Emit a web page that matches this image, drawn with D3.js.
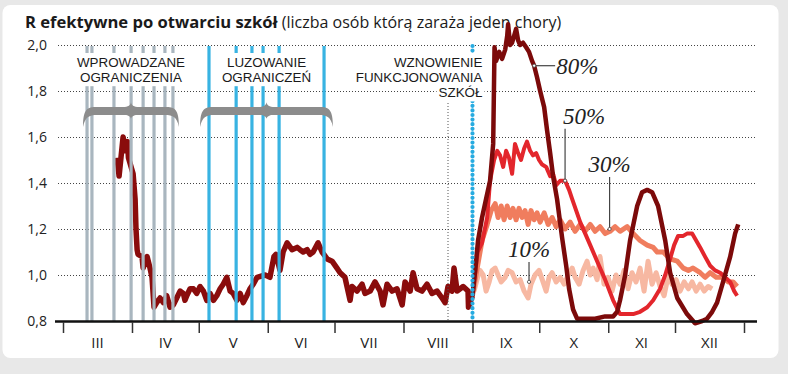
<!DOCTYPE html>
<html>
<head>
<meta charset="utf-8">
<script src="https://cdn.jsdelivr.net/npm/d3@7"></script>
<style>
  body { margin: 0; background: #e8e8e8; }
  svg { display: block; font-family: "Open Sans", sans-serif; }
</style>
</head>
<body>
<div id="chart"></div>
<script>
// days are counted from 1 March 2020
const monthLabels = ["III", "IV", "V", "VI", "VII", "VIII", "IX", "X", "XI", "XII"];
const yTicks = [0.8, 1.0, 1.2, 1.4, 1.6, 1.8, 2.0];

const restrictionDays = [10.8, 13, 22.9, 30.6, 36, 40.9, 45.8, 49.4];
const easingDays = [65.6, 77.8, 84.9, 89.9, 97.1, 117.3];
const schoolDay = 184;
const markerDay = 173;
const braceSpans = [[9, 52.1], [61.6, 121.3]];

const groupLabels = [
  {lines: ["WPROWADZANE", "OGRANICZENIA"], anchor: "middle"},
  {lines: ["LUZOWANIE", "OGRANICZEŃ"], anchor: "middle"},
  {lines: ["WZNOWIENIE", "FUNKCJONOWANIA", "SZKÓŁ"], anchor: "end"}
];

// observed R
const observed = [
  [24.3,1.51],[25.2,1.43],[27.0,1.60],[28.1,1.54],[29.0,1.58],[29.4,1.51],[31.5,1.44],[32.4,1.33],
  [32.8,1.20],[33.3,1.11],[33.7,1.09],[35.5,1.08],[36.0,1.03],[37.8,1.08],[39.1,1.03],[40.0,0.99],
  [40.9,0.86],[42.1,0.88],[43.6,0.90],[45.1,0.88],[46.6,0.91],[48.1,0.86],[49.6,0.87],[51.1,0.90],
  [52.6,0.93],[54.1,0.92],[54.8,0.89],[55.6,0.91],[57.1,0.94],[58.6,0.94],[60.1,0.92],[61.6,0.95],
  [63.1,0.93],[64.6,0.89],[66.1,0.92],[67.6,0.89],[69.1,0.91],[70.6,0.94],[72.0,0.96],[73.6,0.99],
  [75.1,0.93],[76.5,0.92],[78.1,0.89],[79.6,0.92],[81.0,0.88],[82.6,0.91],[84.0,0.94],[85.5,0.96],
  [87.2,0.99],[90.8,1.00],[93.0,0.99],[94.8,1.08],[95.7,1.09],[97.5,1.02],[98.9,1.10],[100.7,1.14],
  [102.9,1.11],[105.2,1.12],[106.5,1.11],[107.9,1.10],[109.7,1.11],[111.0,1.09],[112.4,1.10],[114.6,1.14],
  [116.4,1.10],[118.7,1.07],[120.9,1.06],[123.1,1.03],[124.5,1.01],[126.7,0.99],[129.0,0.89],[129.9,0.95],
  [132.1,0.93],[134.4,0.96],[135.7,0.92],[138.0,0.93],[140.2,0.97],[142.5,0.93],[143.8,0.87],[145.6,0.96],
  [147.9,0.93],[150.1,0.94],[152.4,0.87],[153.7,0.97],[156.0,0.93],[157.3,1.01],[159.1,0.94],[161.3,0.93],
  [163.6,0.96],[165.8,0.92],[168.1,0.93],[170.3,0.90],[171.7,0.88],[173.0,0.95],[174.8,0.93],[175.7,1.03],
  [177.1,0.93],[179.8,0.95],[182.0,0.93],[182.2,0.86],[184.0,0.91]
];

// scenarios after schools reopen
const scen80 = [
  [184,0.91],[185.2,1.02],[186.5,1.15],[188.3,1.25],[190.1,1.33],[191.9,1.41],[193.3,1.57],[193.9,1.99],
  [194.6,1.93],[196.0,1.97],[197.3,1.94],[198.7,1.98],[199.6,2.04],[200.0,2.09],[200.9,2.00],[201.8,2.01],
  [202.7,2.04],[203.6,2.07],[204.5,2.02],[205.4,2.00],[206.7,2.01],[208.1,1.99],[209.4,1.97],[210.8,1.93],
  [211.7,1.91],[213.0,1.86],[214.4,1.80],[216.2,1.73],[217.5,1.63],[218.9,1.53],[220.2,1.43],[222.0,1.33],
  [224.3,1.16],[226.1,1.04],[227.4,0.94],[229.2,0.85],[231.0,0.81],[234.6,0.81],[239.1,0.81],[243.6,0.82],
  [247.2,0.82],[249.0,0.84],[250.3,0.89],[252.6,1.00],[254.8,1.15],[258.0,1.30],[260.2,1.36],[262.5,1.37],
  [264.7,1.36],[267.4,1.30],[270.6,1.15],[272.8,1.01],[276.0,0.90],[280.4,0.83],[284.0,0.79],[287.2,0.80],
  [289.4,0.81],[291.7,0.84],[293.9,0.88],[296.6,0.97],[299.8,1.08],[302.0,1.18],[303.4,1.22]
];
const scen50 = [
  [184,0.91],[186.3,1.10],[188.3,1.14],[190.6,1.25],[191.9,1.41],[193.7,1.50],[195.1,1.54],[196.4,1.52],
  [197.8,1.47],[199.1,1.54],[200.4,1.51],[201.8,1.44],[203.1,1.57],[204.5,1.53],[205.8,1.50],[207.2,1.55],
  [208.5,1.58],[209.9,1.54],[211.2,1.52],[212.6,1.53],[213.9,1.50],[215.3,1.48],[217.1,1.47],[218.9,1.43],
  [220.2,1.44],[221.6,1.39],[223.4,1.41],[225.6,1.41],[227.4,1.37],[228.8,1.33],[232.4,1.23],[236.9,1.13],
  [240.0,1.06],[243.6,0.98],[247.2,0.89],[250.3,0.83],[253.5,0.83],[256.2,0.83],[259.3,0.84],[262.5,0.86],
  [265.2,0.89],[268.3,0.94],[270.6,1.00],[272.8,1.07],[274.6,1.13],[276.4,1.17],[278.7,1.17],[280.4,1.18],
  [282.7,1.18],[284.5,1.15],[286.3,1.12],[288.5,1.08],[290.8,1.04],[293.0,1.02],[295.3,1.01],[297.5,0.99],
  [299.8,0.97],[301.6,0.93],[302.9,0.91]
];
const scen30 = [
  [184,0.91],[186.3,1.04],[188.3,1.15],[190.6,1.22],[192.4,1.28],[194.2,1.31],[195.5,1.25],[196.9,1.30],
  [198.2,1.24],[199.6,1.30],[200.9,1.25],[202.2,1.29],[203.6,1.24],[204.9,1.29],[206.3,1.25],[207.6,1.28],
  [209.0,1.22],[210.3,1.28],[211.7,1.24],[213.0,1.27],[214.4,1.23],[216.2,1.27],[218.0,1.22],[219.8,1.25],
  [221.6,1.21],[223.4,1.24],[225.6,1.20],[227.9,1.23],[230.1,1.19],[232.4,1.22],[234.6,1.19],[236.9,1.22],
  [239.1,1.19],[241.3,1.21],[243.6,1.18],[245.8,1.19],[248.1,1.21],[250.3,1.19],[253.5,1.21],[256.2,1.18],
  [259.3,1.15],[262.5,1.13],[265.2,1.12],[267.0,1.10],[269.7,1.10],[272.8,1.07],[276.0,1.06],[278.7,1.03],
  [281.0,1.02],[283.1,1.03],[286.3,1.01],[288.5,0.99],[290.8,1.01],[293.5,0.99],[296.6,0.99],[298.9,0.97],
  [301.1,0.97],[302.9,0.95]
];
const scen10 = [
  [184.7,0.93],[186.3,0.99],[187.4,1.02],[188.8,1.00],[190.1,0.93],[191.5,0.97],[192.8,1.02],[194.2,1.03],
  [195.5,1.00],[196.9,0.97],[198.7,0.99],[200.0,1.02],[201.8,1.01],[203.6,0.97],[205.4,0.98],[207.2,0.93],
  [209.0,0.90],[210.3,0.96],[212.1,1.00],[213.9,1.02],[215.7,0.97],[217.1,0.93],[218.4,0.99],[219.8,1.01],
  [221.6,0.97],[223.4,0.99],[225.2,0.96],[227.0,1.00],[228.8,1.03],[230.1,0.99],[231.9,0.96],[233.7,1.02],
  [235.5,1.06],[236.9,1.00],[238.2,1.03],[240.0,0.98],[241.3,1.08],[243.1,0.96],[244.9,0.99],[246.7,0.93],
  [248.5,1.00],[250.3,0.96],[252.1,1.02],[253.9,0.94],[255.7,1.01],[257.5,0.97],[259.3,1.03],[261.1,0.93],
  [262.9,1.06],[264.7,0.96],[266.5,1.01],[268.3,0.95],[270.1,0.91],[272.0,1.00],[273.7,0.96],[275.5,0.98],
  [277.3,0.93],[279.1,0.97],[281.0,0.94],[282.7,0.97],[284.5,0.93],[286.3,0.96],[288.1,0.93],[289.9,0.95],
  [291.7,0.94]
];

const seriesList = [
  {name: "10%", data: scen10, color: "#f7b8a2", width: 5},
  {name: "30%", data: scen30, color: "#f07d5e", width: 5},
  {name: "50%", data: scen50, color: "#e3262c", width: 4},
  {name: "80%", data: scen80, color: "#7c0a0a", width: 4.5}
];

// label anchors on the curves [day, R]
const scenarioLabels = [
  {text: "80%", at: [211.7, 1.91], dir: "h"},
  {text: "50%", at: [225.6, 1.41], dir: "v", len: 52, anchor: "start"},
  {text: "30%", at: [245.6, 1.20], dir: "v", len: 52, anchor: "middle"},
  {text: "10%", at: [209.4, 0.97], dir: "v", len: 20, anchor: "middle"}
];

const W = 788, H = 374;
const svg = d3.select("#chart").append("svg").attr("width", W).attr("height", H);

const t0 = Date.UTC(2020, 2, 1);
const day = d => new Date(t0 + d * 864e5);

const x = d3.scaleUtc()
  .domain([new Date(t0), new Date(Date.UTC(2021, 0, 1))])
  .range([63, 744]);
const y = d3.scaleLinear().domain([0.8, 2.0]).range([321, 45]);

// card
svg.append("rect")
  .attr("x", 2.5).attr("y", 5).attr("width", 776).attr("height", 353)
  .attr("rx", 8).attr("fill", "#fff");

// grid + y labels
const fmt = v => d3.format(".1f")(v).replace(".", ",");
svg.append("g").selectAll("line")
  .data(yTicks.filter(v => v > 0.8))
  .join("line")
    .attr("x1", 58).attr("x2", 755)
    .attr("y1", d => y(d) + 0.5).attr("y2", d => y(d) + 0.5)
    .attr("stroke", "#444").attr("stroke-width", 1)
    .attr("stroke-dasharray", "1,2");

svg.append("g").selectAll("text")
  .data(yTicks)
  .join("text")
    .attr("x", 47).attr("y", d => y(d))
    .attr("dy", "0.36em")
    .attr("text-anchor", "end")
    .attr("font-size", 14).attr("fill", "#222")
    .text(fmt);

// title
const title = svg.append("text").attr("x", 25).attr("y", 28).attr("fill", "#1a1a1a");
title.append("tspan").attr("font-weight", 700).attr("font-size", 16.6)
  .text("R efektywne po otwarciu szkół");
title.append("tspan").attr("font-size", 16)
  .text(" (liczba osób którą zaraża jeden chory)");

// lines
const line = d3.line().x(d => x(day(d[0]))).y(d => y(d[1]));

svg.append("path").datum(observed)
  .attr("d", line).attr("fill", "none")
  .attr("stroke", "#8a0c0c").attr("stroke-width", 5.5)
  .attr("stroke-linejoin", "round");

svg.append("g").selectAll("path")
  .data(seriesList)
  .join("path")
    .attr("d", d => line(d.data))
    .attr("fill", "none")
    .attr("stroke", d => d.color)
    .attr("stroke-width", d => d.width)
    .attr("stroke-linejoin", "round");

// vertical event lines
const vTop = y(2.0) + 1, vBot = y(0.8);
svg.append("g").selectAll("line")
  .data(restrictionDays)
  .join("line")
    .attr("x1", d => x(day(d))).attr("x2", d => x(day(d)))
    .attr("y1", vTop).attr("y2", vBot)
    .attr("stroke", "#a9b6bf").attr("stroke-width", 3.2);

svg.append("g").selectAll("line")
  .data(easingDays)
  .join("line")
    .attr("x1", d => x(day(d))).attr("x2", d => x(day(d)))
    .attr("y1", vTop).attr("y2", vBot)
    .attr("stroke", "#38b3e2").attr("stroke-width", 3.2);

svg.append("line")
  .attr("x1", x(day(markerDay))).attr("x2", x(day(markerDay)))
  .attr("y1", y(1.8)).attr("y2", vBot)
  .attr("stroke", "#555").attr("stroke-width", 1)
  .attr("stroke-dasharray", "1,2");

svg.append("line")
  .attr("x1", x(day(schoolDay))).attr("x2", x(day(schoolDay)))
  .attr("y1", vTop).attr("y2", vBot)
  .attr("stroke", "#27abe0").attr("stroke-width", 4.2)
  .attr("stroke-linecap", "round")
  .attr("stroke-dasharray", "0,4.6");

// braces
function brace(x0, x1, t) {
  const m = (x0 + x1) / 2;
  return `M${x0},${t + 16}
    C${x0},${t - 2} ${x0 + 4},${t - 4} ${x0 + 14},${t - 4}
    L${m - 8},${t - 4} C${m - 3},${t - 4} ${m},${t - 6} ${m},${t - 9}
    C${m},${t - 6} ${m + 3},${t - 4} ${m + 8},${t - 4}
    L${x1 - 14},${t - 4} C${x1 - 4},${t - 4} ${x1},${t - 2} ${x1},${t + 16}
    C${x1 - 2},${t + 6} ${x1 - 6},${t + 4} ${x1 - 14},${t + 4}
    L${m + 6},${t + 4} C${m + 3},${t + 4} ${m},${t + 6} ${m},${t + 8}
    C${m},${t + 6} ${m - 3},${t + 4} ${m - 6},${t + 4}
    L${x0 + 14},${t + 4} C${x0 + 6},${t + 4} ${x0 + 2},${t + 6} ${x0},${t + 16}Z`;
}
svg.append("g").selectAll("path")
  .data(braceSpans)
  .join("path")
    .attr("d", d => brace(x(day(d[0])), x(day(d[1])), 111))
    .attr("fill", "#8c8c8c");

// group labels with white boxes (one text per group, one tspan per line)
const labelX = [
  (x(day(braceSpans[0][0])) + x(day(braceSpans[0][1]))) / 2,
  (x(day(braceSpans[1][0])) + x(day(braceSpans[1][1]))) / 2,
  x(day(schoolDay)) + 10
];
groupLabels.forEach((g, i) => {
  const gg = svg.append("g");
  const tx = gg.append("text")
    .attr("text-anchor", g.anchor)
    .attr("font-family", "'Liberation Sans', sans-serif")
    .attr("font-size", 13.4).attr("fill", "#1a1a1a");
  g.lines.forEach((s, j) => {
    tx.append("tspan").attr("x", labelX[i]).attr("y", 67 + j * 15.2).text(s);
  });
  tx.selectAll("tspan").each(function() {
    const n = this.getComputedTextLength();
    const lx = +this.getAttribute("x"), ly = +this.getAttribute("y");
    const x0 = g.anchor === "end" ? lx - n : lx - n / 2;
    gg.insert("rect", "text")
      .attr("x", x0 - 2).attr("y", ly - 14)
      .attr("width", n + 4).attr("height", 18)
      .attr("fill", "#fff");
  });
});

// x axis
svg.append("line")
  .attr("x1", 55).attr("x2", 757)
  .attr("y1", y(0.8) + 0.5).attr("y2", y(0.8) + 0.5)
  .attr("stroke", "#111").attr("stroke-width", 2.5);

const months = d3.utcMonth.range(new Date(t0), new Date(Date.UTC(2021, 0, 2)));
svg.append("g")
  .attr("transform", `translate(0,${y(0.8) + 1})`)
  .call(d3.axisBottom(x).tickValues(months).tickSize(11).tickFormat(""))
  .call(g => g.select(".domain").remove())
  .call(g => g.selectAll(".tick line").attr("stroke", "#333").attr("stroke-width", 1.5));

svg.append("g").selectAll("text")
  .data(monthLabels)
  .join("text")
    .attr("x", (d, i) => (x(months[i]) + x(months[i + 1])) / 2)
    .attr("y", 348)
    .attr("text-anchor", "middle")
    .attr("font-size", 15).attr("fill", "#222")
    .text(d => d);

// scenario labels
scenarioLabels.forEach(l => {
  const ax = x(day(l.at[0])), ay = y(l.at[1]);
  const g = svg.append("g");
  const lab = g.append("text")
    .attr("font-family", "'Liberation Serif', serif").attr("font-style", "italic")
    .attr("font-size", 23).attr("fill", "#222").text(l.text);
  if (l.dir === "h") {
    g.append("line").attr("x1", ax).attr("x2", ax + 21).attr("y1", ay).attr("y2", ay)
      .attr("stroke", "#444").attr("stroke-width", 1.2);
    lab.attr("x", ax + 22).attr("y", ay + 8);
  } else {
    g.append("line").attr("x1", ax).attr("x2", ax).attr("y1", ay).attr("y2", ay - l.len)
      .attr("stroke", "#444").attr("stroke-width", 1.2);
    lab.attr("x", l.anchor === "start" ? ax - 2 : ax).attr("y", ay - l.len - 5)
      .attr("text-anchor", l.anchor);
  }
  g.append("circle").attr("cx", ax).attr("cy", ay).attr("r", 1.6)
    .attr("fill", "#fff").attr("stroke", "#444").attr("stroke-width", 0.8);
});
</script>
</body>
</html>
